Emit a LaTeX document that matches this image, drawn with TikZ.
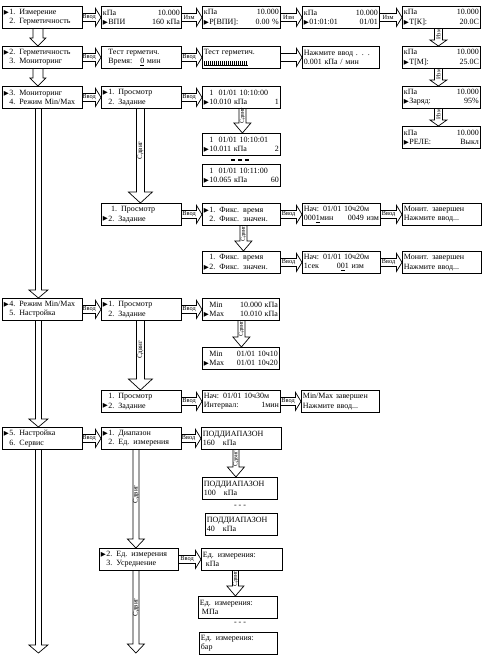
\documentclass[tikz,border=0pt]{standalone}
\usepackage{fontspec}
\setmainfont{Liberation Serif}
\newfontfamily\symfont{DejaVu Sans}
\usetikzlibrary{calc}
\newcommand\mk{\makebox[5.5pt][l]{\raisebox{0.2pt}{\symfont\fontsize{6.5}{6.5}\selectfont ▶}}}
\newcommand\nm{\hspace*{5.5pt}}
\newcommand\pbi{\rule[-1pt]{0.6pt}{4.5pt}\hspace*{1.4pt}}
\newcommand\pbf{\pbi\pbi\pbi\pbi\pbi}
\newcommand\pbar{\leavevmode\makebox[44pt][l]{\rlap{\rule[-1.3pt]{44pt}{0.5pt}}\pbf\pbf\pbf\pbf\pbi\pbi}}
\tikzset{
 scr/.style={draw, line width=0.8pt, rectangle, anchor=north west, minimum height=22pt,
   inner xsep=1.5pt, inner ysep=0pt, align=left, font=\fontsize{8}{9.5}\selectfont},
 blk/.style={draw, line width=0.7pt, line join=miter},
 alab/.style={font=\fontsize{6.3}{6.3}\selectfont, inner sep=0pt},
 vlab/.style={font=\fontsize{7}{7}\selectfont, inner sep=0pt, rotate=90},
 dashes/.style={inner sep=0pt, font=\fontsize{8}{9.5}\selectfont},
}
\newcommand\scr[6]{\node[scr, text width={#4pt-3pt}] (#1) at (#2,#3) {#5\\#6};}
\newcommand\harr[3]{%
 \draw[blk] ($(#1.east)+(0,-4)$) -- ($(#2.west)+(-5.5,-4)$) -- ($(#2.west)+(-5.5,-9)$) -- (#2.west)
   -- ($(#2.west)+(-5.5,9)$) -- ($(#2.west)+(-5.5,4)$) -- ($(#1.east)+(0,4)$);
 \node[alab] (#1-#2) at ($(#1.east)!0.5!(#2.west)+(-2.75,0)$) {#3};}
\newcommand\varr[8]{%
 \coordinate (#1-s) at ($(#1.south)+(#4,0)$);
 \coordinate (#1-e) at (#1-s |- #2);
 \draw[blk] ($(#1-s)+(-#5,0)$) -- ($(#1-e)+(-#5,-#7)$) -- ($(#1-e)+(-#6,-#7)$) -- (#1-e)
   -- ($(#1-e)+(#6,-#7)$) -- ($(#1-e)+(#5,-#7)$) -- ($(#1-s)+(#5,0)$);
 \node[vlab,#8] (#1-v) at ($(#1-s)!0.5!(#1-e)+(0,-#7/2)$) {#3};}
\begin{document}
\begin{tikzpicture}[x=1pt,y=-1pt]
\fill[white] (0,0) rectangle (485,659);
\useasboundingbox (0,0) rectangle (485,659);
% row 1
\scr{A1}{2}{6}{80}{\mk 1. Измерение}{\nm 2. Герметичность}
\scr{B1}{101}{6}{80}{кПа\hfill 10.000}{\mk ВПИ\hfill 160 кПа}
\scr{C1}{202}{6}{78}{кПа\hfill 10.000}{\mk Р[ВПИ]:\hfill 0.00 \%}
\scr{D1}{302}{6}{77}{кПа\hfill 10.000}{\mk 01:01:01\hfill 01/01}
\scr{E1}{402}{6}{78}{кПа\hfill 10.000}{\mk Т[К]:\hfill 20.0С}
\scr{E2}{402}{46}{78}{кПа\hfill 10.000}{\mk Т[М]:\hfill 25.0С}
\scr{E3}{402}{86}{78}{кПа\hfill 10.000}{\mk Заряд:\hfill 95\%\hspace*{6pt}}
\scr{E4}{402}{126}{78}{кПа\hfill 10.000}{\mk РЕЛЕ:\hfill Выкл\hspace*{6pt}}
% row 2
\scr{A2}{2}{46}{80}{\mk 2. Герметичность}{\nm 3. Мониторинг}
\scr{B2}{101}{46}{80}{\nm Тест герметич.}{\nm Время:\hspace{8pt}\underline{0} мин}
\scr{C2}{202}{46}{78}{Тест герметич.}{\pbar}
\scr{D2}{302}{46}{77}{Нажмите ввод . . .}{0.001 кПа / мин}
% row 3
\scr{A3}{2}{86}{80}{\mk 3. Мониторинг}{\nm 4. Режим Min/Max}
\scr{B3}{101}{86}{80}{\mk 1. Просмотр}{\nm 2. Задание}
\scr{C3}{202}{86}{78}{\nm 1\ \ 01/01 10:10:00}{\mk 10.010 кПа\hfill 1\hspace*{10pt}}
\scr{C3b}{202}{133}{78}{\nm 1\ \ 01/01 10:10:01}{\mk 10.011 кПа\hfill 2\hspace*{10pt}}
\node[dashes] (dd1) at (240,160) {\rule{4pt}{1.8pt}\hspace{3pt}\rule{4pt}{1.8pt}\hspace{3pt}\rule{4pt}{1.8pt}};
\scr{C3c}{202}{164}{78}{\nm 1\ \ 01/01 10:11:00}{\mk 10.065 кПа\hfill 60\hspace*{8pt}}
\scr{B3b}{101}{203}{80}{\nm\ 1. Просмотр}{\mk 2. Задание}
\scr{C3d}{202}{203}{78}{\mk 1. Фикс. время}{\nm 2. Фикс. значен.}
\scr{D3d}{302}{203}{78}{Нач: 01/01 10ч20м}{000\underline{1}мин\hfill 0049 изм\hspace*{9pt}}
\scr{E3d}{402}{203}{79}{Монит. завершен}{Нажмите ввод...}
\scr{C3e}{202}{251}{78}{\nm 1. Фикс. время}{\mk 2. Фикс. значен.}
\scr{D3e}{302}{251}{78}{Нач: 01/01 10ч20м}{1сек\hspace{18pt}0\underline{0}1 изм}
\scr{E3e}{402}{251}{79}{Монит. завершен}{Нажмите ввод...}
% row 4
\scr{A4}{2}{298}{80}{\mk 4. Режим Min/Max}{\nm 5. Настройка}
\scr{B4}{101}{298}{80}{\mk 1. Просмотр}{\nm 2. Задание}
\scr{C4}{202}{298}{77}{\nm Min\hfill 10.000 кПа}{\mk Max\hfill 10.010 кПа}
\scr{C4b}{202}{347}{77}{\nm Min\hfill 01/01 10ч10}{\mk Max\hfill 01/01 10ч20}
\scr{B4b}{101}{390}{80}{\nm 1. Просмотр}{\mk 2. Задание}
\scr{C4c}{202}{390}{78}{Нач: 01/01 10ч30м}{Интервал:\hfill 1мин\hspace*{10pt}}
\scr{D4c}{301}{390}{78}{Min/Max завершен}{Нажмите ввод...}
% row 5
\scr{A5}{2}{427}{80}{\mk 5. Настройка}{\nm 6. Сервис}
\scr{B5}{101}{427}{80}{\mk 1. Диапазон}{\nm 2. Ед. измерения}
\scr{C5}{201}{427}{80}{ПОДДИАПАЗОН}{160\hspace{8pt}кПа}
\scr{C5b}{202}{477}{75}{ПОДДИАПАЗОН}{100\hspace{8pt}кПа}
\node[dashes] (dd2) at (240,506) {- - -};
\scr{C5c}{205}{513}{72}{ПОДДИАПАЗОН}{40\hspace{8pt}кПа}
\scr{B5b}{99}{548}{79}{\mk 2. Ед. измерения}{\nm 3. Усреднение}
\scr{C5d}{201}{548}{81}{Ед. измерения:}{\hspace*{3pt}кПа}
\scr{C5e}{198}{596}{79}{Ед. измерения:}{\hspace*{2pt}МПа}
\node[dashes] (dd3) at (240,623) {- - -};
\scr{C5f}{199}{632}{78}{Ед. измерения:}{бар}
% horizontal arrows
\harr{A1}{B1}{Ввод}
\harr{B1}{C1}{Изм}
\harr{C1}{D1}{Изм}
\harr{D1}{E1}{Изм}
\harr{A2}{B2}{Ввод}
\harr{B2}{C2}{Ввод}
\harr{C2}{D2}{}
\harr{A3}{B3}{Ввод}
\harr{B3}{C3}{Ввод}
\harr{B3b}{C3d}{Ввод}
\harr{C3d}{D3d}{Ввод}
\harr{D3d}{E3d}{Ввод}
\harr{C3e}{D3e}{Ввод}
\harr{D3e}{E3e}{Ввод}
\harr{A4}{B4}{Ввод}
\harr{B4}{C4}{Ввод}
\harr{B4b}{C4c}{Ввод}
\harr{C4c}{D4c}{Ввод}
\harr{A5}{B5}{Ввод}
\harr{B5}{C5}{Ввод}
\harr{B5b}{C5d}{Ввод}
% vertical arrows
\varr{A1}{A2.north}{}{-4.5}{5}{8}{8}{}
\varr{A2}{A3.north}{}{-4.5}{5}{8}{8}{}
\varr{A3}{A4.north}{}{-4}{3}{9.5}{8}{}
\varr{A4}{A5.north}{}{-4}{3}{9.5}{8}{}
\coordinate (endA) at (38,653);
\varr{A5}{endA}{}{-4}{3}{9.5}{8}{}
\varr{E1}{E2.north}{Изм}{-3}{4}{8.5}{6}{font=\fontsize{6}{6}\selectfont}
\varr{E2}{E3.north}{Изм}{-3}{4}{8.5}{6}{font=\fontsize{6}{6}\selectfont}
\varr{E3}{E4.north}{Изм}{-3}{4}{8.5}{6}{font=\fontsize{6}{6}\selectfont}
\varr{B3}{B3b.north}{Сдвиг}{-1}{4}{12}{11}{}
\varr{C3}{C3b.north}{Сдвиг}{1}{3.5}{8.5}{10}{font=\fontsize{6}{6}\selectfont}
\varr{C3d}{C3e.north}{Сдвиг}{2}{3.5}{8.5}{10}{font=\fontsize{6}{6}\selectfont}
\varr{B4}{B4b.north}{Сдвиг}{-1}{4}{12}{11}{}
\varr{C4}{C4b.north}{Сдвиг}{0.5}{3.5}{8.5}{10}{font=\fontsize{6}{6}\selectfont}
\varr{B5}{B5b.north}{Сдвиг}{-5.5}{3}{8.5}{9}{}
\varr{C5}{C5b.north}{Сдвиг}{-5.5}{3}{8.5}{10}{font=\fontsize{6}{6}\selectfont}
\varr{C5d}{C5e.north}{Сдвиг}{-6.5}{3}{8.5}{10}{font=\fontsize{6}{6}\selectfont}
\coordinate (endB) at (136,653);
\varr{B5b}{endB}{Сдвиг}{-3}{3}{8.5}{9}{}
\end{tikzpicture}
\end{document}
